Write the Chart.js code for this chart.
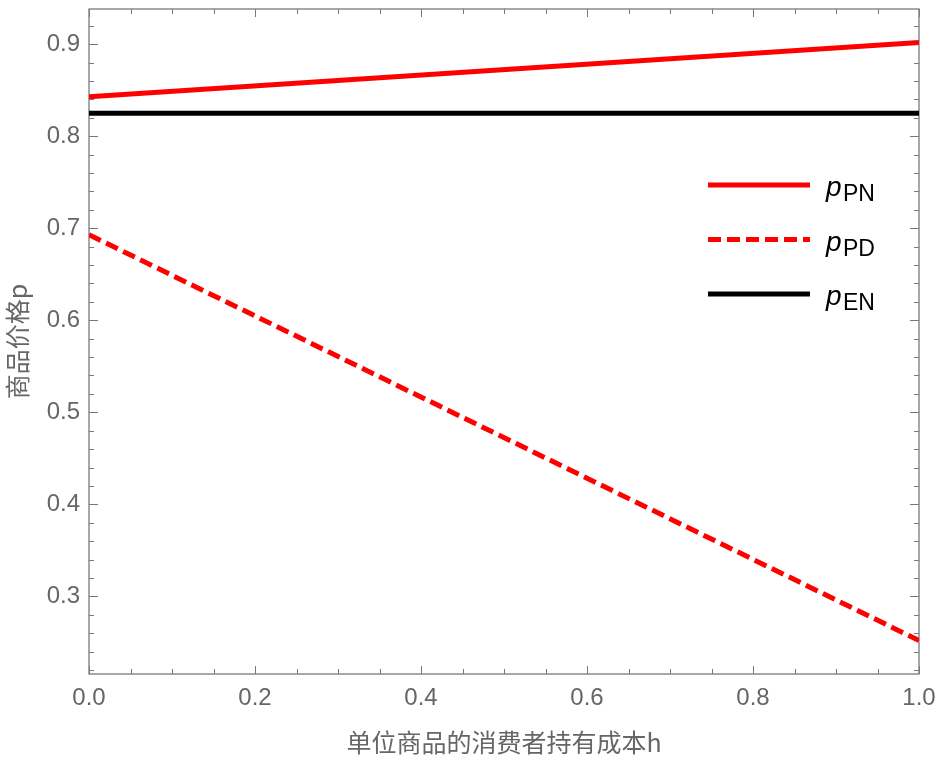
<!DOCTYPE html>
<html>
<head>
<meta charset="utf-8">
<script src="https://cdn.jsdelivr.net/npm/chart.js@4.4.1/dist/chart.umd.min.js"></script>
<style>
  html, body { margin: 0; background: #fff; }
</style>
</head>
<body>
<canvas id="grafico" width="939" height="762"></canvas>
<script>
// =========================
// Dados
// =========================
const hValores = [0, 1];
const pPN = [0.843, 0.902];
const pPD = [0.693, 0.252];
const pEN = [0.825, 0.825];

const nomeBase = 'p';
const subscritos = ['PN', 'PD', 'EN'];

const xTicks = [0, 0.2, 0.4, 0.6, 0.8, 1.0];
const yTicks = [0.3, 0.4, 0.5, 0.6, 0.7, 0.8, 0.9];

const tituloX = '单位商品的消费者持有成本h';
const tituloY = '商品价格p';

// =========================
// Estilo
// =========================
const FONTE = '"Liberation Sans", Arial, "Noto Sans CJK SC", sans-serif';
const FONTE_CJK = '"Noto Sans CJK SC", "Liberation Sans", sans-serif';
const CINZA = '#666666';
const MOLDURA = '#7a7a7a';

// Moldura com ticks para dentro (estilo Mathematica)
const pluginMoldura = {
  id: 'moldura',
  beforeDatasetsDraw(chart) {
    const { ctx, chartArea: a, scales: { x, y } } = chart;
    ctx.save();
    ctx.strokeStyle = MOLDURA;
    ctx.lineWidth = 1.3;
    ctx.strokeRect(a.left, a.top, a.right - a.left, a.bottom - a.top);

    ctx.lineWidth = 1;
    // ticks em x a cada 0.05
    for (let i = 0; i <= 20; i++) {
      const px = Math.round(x.getPixelForValue(i * 0.05)) + 0.5;
      const len = i % 4 === 0 ? 8 : 5;
      ctx.beginPath();
      ctx.moveTo(px, a.bottom); ctx.lineTo(px, a.bottom - len);
      ctx.moveTo(px, a.top); ctx.lineTo(px, a.top + len);
      ctx.stroke();
    }
    // ticks em y a cada 0.02
    for (let i = 11; i <= 46; i++) {
      const v = i * 0.02;
      if (v < y.min || v > y.max) continue;
      const py = Math.round(y.getPixelForValue(v)) + 0.5;
      const len = i % 5 === 0 ? 9 : 5;
      ctx.beginPath();
      ctx.moveTo(a.left, py); ctx.lineTo(a.left + len, py);
      ctx.moveTo(a.right, py); ctx.lineTo(a.right - len, py);
      ctx.stroke();
    }
    ctx.restore();
  },
  afterDraw(chart) {
    const { ctx, chartArea: a } = chart;
    ctx.save();

    // títulos dos eixos
    ctx.fillStyle = CINZA;
    ctx.font = '25px ' + FONTE_CJK;
    ctx.textAlign = 'center';
    ctx.textBaseline = 'middle';
    ctx.fillText(tituloX, (a.left + a.right) / 2, 742);

    ctx.save();
    ctx.translate(17, (a.top + a.bottom) / 2);
    ctx.rotate(-Math.PI / 2);
    ctx.fillText(tituloY, 0, 0);
    ctx.restore();

    // legenda
    chart.data.datasets.forEach((ds, i) => {
      const ly = 185 + i * 54.5;
      ctx.strokeStyle = ds.borderColor;
      ctx.lineWidth = ds.borderWidth;
      ctx.setLineDash(ds.borderDash || []);
      ctx.beginPath();
      ctx.moveTo(708, ly);
      ctx.lineTo(810, ly);
      ctx.stroke();
      ctx.setLineDash([]);

      ctx.fillStyle = '#000';
      ctx.textAlign = 'left';
      ctx.textBaseline = 'alphabetic';
      ctx.font = 'italic 28px ' + FONTE;
      ctx.fillText(nomeBase, 826, ly + 11);
      ctx.font = '23px ' + FONTE;
      ctx.fillText(subscritos[i], 843, ly + 16);
    });

    ctx.restore();
  }
};

const ctx = document.getElementById('grafico').getContext('2d');

new Chart(ctx, {
  type: 'line',
  data: {
    labels: hValores,
    datasets: [
      {
        label: nomeBase + subscritos[0],
        data: hValores.map((h, i) => ({ x: h, y: pPN[i] })),
        borderColor: '#ff0000',
        borderWidth: 5
      },
      {
        label: nomeBase + subscritos[1],
        data: hValores.map((h, i) => ({ x: h, y: pPD[i] })),
        borderColor: '#ff0000',
        borderWidth: 5,
        borderDash: [13, 6]
      },
      {
        label: nomeBase + subscritos[2],
        data: hValores.map((h, i) => ({ x: h, y: pEN[i] })),
        borderColor: '#000000',
        borderWidth: 5
      }
    ]
  },
  options: {
    responsive: false,
    animation: false,
    devicePixelRatio: 1,
    layout: { padding: { top: 9, right: 20, left: 0, bottom: 0 } },
    elements: { point: { radius: 0 }, line: { tension: 0 } },
    plugins: {
      legend: { display: false },
      tooltip: { enabled: false }
    },
    scales: {
      x: {
        type: 'linear',
        min: 0,
        max: 1,
        grid: { display: false, drawTicks: false },
        border: { display: false },
        afterBuildTicks: s => { s.ticks = xTicks.map(v => ({ value: v })); },
        afterFit: s => { s.height = 88; s.paddingLeft = 0; s.paddingRight = 0; },
        ticks: {
          padding: 10,
          color: CINZA,
          font: { family: FONTE, size: 24 },
          maxRotation: 0,
          callback: v => v.toFixed(1)
        }
      },
      y: {
        type: 'linear',
        min: 0.2156,
        max: 0.9383,
        grid: { display: false, drawTicks: false },
        border: { display: false },
        afterBuildTicks: s => { s.ticks = yTicks.map(v => ({ value: v })); },
        afterFit: s => { s.width = 89; s.paddingTop = 0; s.paddingBottom = 0; },
        ticks: {
          padding: 9,
          color: CINZA,
          font: { family: FONTE, size: 24 },
          callback: v => v.toFixed(1)
        }
      }
    }
  },
  plugins: [pluginMoldura]
});
</script>
</body>
</html>
